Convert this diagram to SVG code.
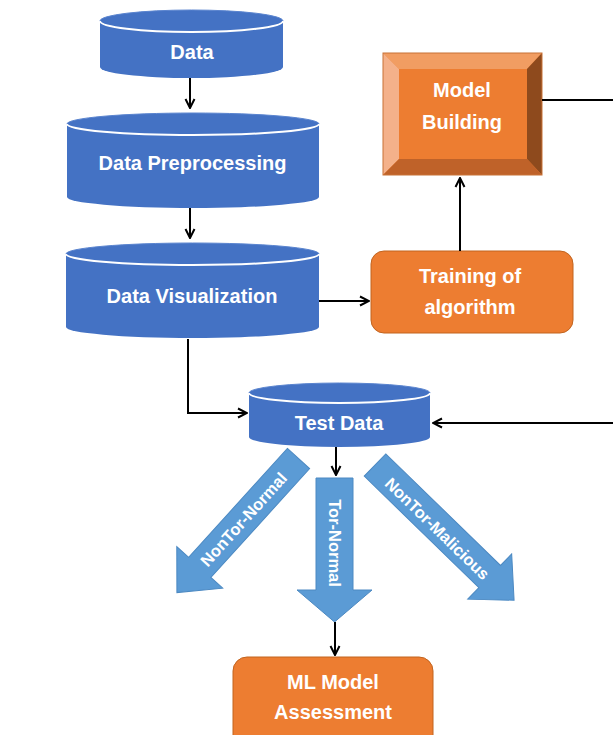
<svg xmlns="http://www.w3.org/2000/svg" width="613" height="735" viewBox="0 0 613 735">
  <defs>
    <style>
      .cyl { fill: #4472C4; }
      .cyltop { fill: #4472C4; stroke: #5A84CF; stroke-width: 1; }
      .rim { fill: none; stroke: #FFFFFF; stroke-width: 2; }
      .orange { fill: #ED7D31; stroke: #C2641F; stroke-width: 1; }
      .blk { fill: #5B9BD5; stroke: #4C89C2; stroke-width: 1; }
      .lbl { font-family: "Liberation Sans", Arial, sans-serif; font-weight: bold; font-size: 20px; fill: #FFFFFF; text-anchor: middle; }
      .albl { font-family: "Liberation Sans", Arial, sans-serif; font-weight: bold; font-size: 16.5px; fill: #FFFFFF; text-anchor: middle; }
      .conn { fill: none; stroke: #000000; stroke-width: 2; }
    </style>
    <marker id="arr" viewBox="0 0 12 12" refX="11" refY="6" markerWidth="12" markerHeight="12" markerUnits="userSpaceOnUse" orient="auto">
      <path d="M2,1.5 L11,6 L2,10.5" fill="none" stroke="#000" stroke-width="2"/>
    </marker>
  </defs>

  <rect width="613" height="735" fill="#FFFFFF"/>

  <!-- Block arrows -->
  <g id="arrow-nontor-normal" transform="translate(298.5,458.5) rotate(42.2)">
    <polygon class="blk" points="-15,0 15,0 15,147 31,147 0,181 -31,147 -15,147"/>
    <text class="albl" transform="translate(0,82) rotate(-90)" dy="6">NonTor-Normal</text>
  </g>
  <g id="arrow-tor-normal" transform="translate(334.5,478)">
    <polygon class="blk" points="-18.5,0 18.5,0 18.5,112 37.5,112 0,144 -37.5,112 -18.5,112"/>
    <text class="albl" transform="translate(0,65) rotate(90)" dy="6">Tor-Normal</text>
  </g>
  <g id="arrow-nontor-malicious" transform="translate(375,465) rotate(-45.8)">
    <polygon class="blk" points="-15.5,0 15.5,0 15.5,160 31.5,160 0,194 -31.5,160 -15.5,160"/>
    <text class="albl" transform="translate(-2,89) rotate(90)" dy="6">NonTor-Malicious</text>
  </g>

  <!-- Cylinders -->
  <g id="data">
    <path class="cyl" d="M100,21 L100,67 A91.5,11 0 0 0 283,67 L283,21 Z"/>
    <ellipse class="cyltop" cx="191.5" cy="21" rx="91.5" ry="11"/>
    <path class="rim" d="M100,21 A91.5,11 0 0 0 283,21"/>
    <text class="lbl" x="192" y="59">Data</text>
  </g>
  <g id="data-preprocessing">
    <path class="cyl" d="M67,124 L67,197 A126,11 0 0 0 319,197 L319,124 Z"/>
    <ellipse class="cyltop" cx="193" cy="124" rx="126" ry="11"/>
    <path class="rim" d="M67,124 A126,11 0 0 0 319,124"/>
    <text class="lbl" x="192.5" y="170">Data Preprocessing</text>
  </g>
  <g id="data-visualization">
    <path class="cyl" d="M66,254 L66,327 A126.5,11 0 0 0 319,327 L319,254 Z"/>
    <ellipse class="cyltop" cx="192.5" cy="254" rx="126.5" ry="11"/>
    <path class="rim" d="M66,254 A126.5,11 0 0 0 319,254"/>
    <text class="lbl" x="192" y="303">Data Visualization</text>
  </g>
  <g id="test-data">
    <path class="cyl" d="M249,393 L249,437 A90.5,10 0 0 0 430,437 L430,393 Z"/>
    <ellipse class="cyltop" cx="339.5" cy="393" rx="90.5" ry="10"/>
    <path class="rim" d="M249,393 A90.5,10 0 0 0 430,393"/>
    <text class="lbl" x="339" y="430">Test Data</text>
  </g>

  <!-- Model Building (bevel) -->
  <g id="model-building">
    <rect x="383" y="53" width="159" height="122" fill="#ED7D31"/>
    <polygon points="383,53 542,53 527,69 399,69" fill="#F19D62"/>
    <polygon points="383,53 399,69 399,159 383,175" fill="#F4B18A"/>
    <polygon points="542,53 542,175 527,159 527,69" fill="#8E4A1D"/>
    <polygon points="383,175 399,159 527,159 542,175" fill="#BF6229"/>
    <rect x="399" y="69" width="128" height="90" fill="#ED7D31"/>
    <rect x="383" y="53" width="159" height="122" fill="none" stroke="#C87237" stroke-width="1"/>
    <text class="lbl" x="462" y="97">Model</text>
    <text class="lbl" x="462" y="129">Building</text>
  </g>

  <!-- Training of algorithm -->
  <g id="training">
    <rect class="orange" x="371" y="251" width="202" height="82" rx="13" ry="13"/>
    <text class="lbl" x="470" y="283">Training of</text>
    <text class="lbl" x="470" y="314">algorithm</text>
  </g>

  <!-- ML Model Assessment -->
  <g id="ml-model-assessment">
    <rect class="orange" x="233" y="657" width="200" height="100" rx="14" ry="14"/>
    <text class="lbl" x="333" y="689">ML Model</text>
    <text class="lbl" x="333" y="719">Assessment</text>
  </g>

  <!-- Connectors -->
  <g id="connectors">
    <line class="conn" x1="190" y1="78" x2="190" y2="108" marker-end="url(#arr)"/>
    <line class="conn" x1="190" y1="208" x2="190" y2="238" marker-end="url(#arr)"/>
    <line class="conn" x1="319" y1="301" x2="369" y2="301" marker-end="url(#arr)"/>
    <line class="conn" x1="460" y1="251" x2="460" y2="178" marker-end="url(#arr)"/>
    <line class="conn" x1="542" y1="100" x2="613" y2="100"/>
    <line class="conn" x1="613" y1="423" x2="433" y2="423" marker-end="url(#arr)"/>
    <polyline class="conn" points="188,339 188,413 247,413" marker-end="url(#arr)"/>
    <line class="conn" x1="336" y1="447" x2="336" y2="475" marker-end="url(#arr)"/>
    <line class="conn" x1="335" y1="622" x2="335" y2="655" marker-end="url(#arr)"/>
  </g>
</svg>
